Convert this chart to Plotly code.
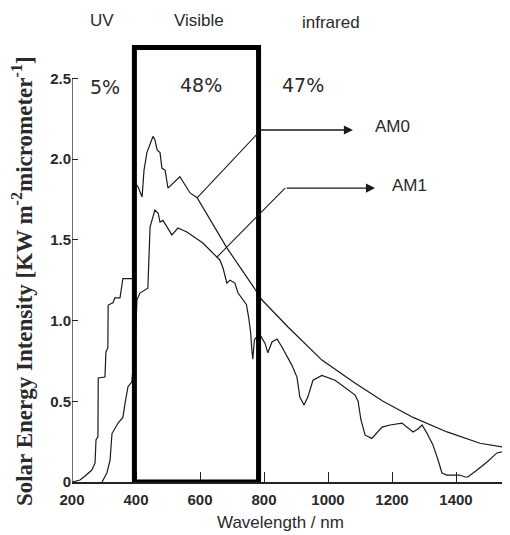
import plotly.graph_objects as go

# ---- data ----
am0_wavelength = [200, 225, 241, 262, 272, 275, 281, 282, 303, 306, 312, 313, 328, 334, 350, 359, 381, 390,
                  397, 406, 419, 425, 434, 444, 453, 459, 466, 475, 481, 491, 500, 537, 569, 591, 684, 778,
                  794, 875, 981, 1084, 1172, 1266, 1372, 1475, 1569]
am0_intensity = [0, 0.012, 0.037, 0.074, 0.118, 0.26, 0.28, 0.644, 0.65, 0.805, 0.83, 1.096, 1.11, 1.14, 1.14,
                 1.26, 1.26, 1.26, 1.85, 1.83, 1.765, 1.93, 2.04, 2.10, 2.14, 2.12, 2.056, 2.04, 1.944, 1.93,
                 1.82, 1.89, 1.79, 1.76, 1.45, 1.176, 1.127, 0.96, 0.755, 0.613, 0.50, 0.40, 0.31, 0.24, 0.21]

am1_wavelength = [294, 309, 319, 325, 344, 359, 366, 375, 387, 397, 403, 412, 437, 444, 459, 469, 475, 484,
                  497, 512, 531, 559, 609, 653, 662, 672, 684, 694, 709, 719, 734, 745, 752, 758, 762, 765,
                  770, 785, 803, 812, 825, 841, 856, 887, 903, 912, 925, 937, 953, 981, 1022, 1084, 1094,
                  1103, 1116, 1137, 1169, 1194, 1231, 1247, 1266, 1281, 1294, 1309, 1328, 1344, 1356, 1372,
                  1412, 1428, 1437, 1466, 1497, 1528, 1569]
am1_intensity = [0, 0.056, 0.136, 0.30, 0.365, 0.40, 0.49, 0.59, 0.62, 0.836, 1.127, 1.17, 1.20, 1.58, 1.684,
                 1.666, 1.61, 1.62, 1.58, 1.53, 1.573, 1.548, 1.48, 1.393, 1.375, 1.325, 1.232, 1.25, 1.232,
                 1.17, 1.127, 1.10, 1.02, 0.93, 0.82, 0.76, 0.88, 0.92, 0.86, 0.80, 0.867, 0.885, 0.836,
                 0.724, 0.65, 0.526, 0.477, 0.526, 0.63, 0.66, 0.63, 0.54, 0.50, 0.384, 0.29, 0.27, 0.34,
                 0.353, 0.365, 0.34, 0.31, 0.328, 0.353, 0.303, 0.23, 0.136, 0.056, 0.043, 0.043, 0.031,
                 0.031, 0.074, 0.124, 0.18, 0.198]

x_ticks = [200, 400, 600, 800, 1000, 1200, 1400]
y_ticks = [0, 0.5, 1.0, 1.5, 2.0, 2.5]
y_tick_text = ["0", "0.5", "1.0", "1.5", "2.0", "2.5"]

visible_band = [395, 783]          # boxed visible region (nm)
region_names = ["UV", "Visible", "infrared"]
region_shares = ["5%", "48%", "47%"]

LINE = "#1a1a1a"
TXT = "#2a2a2a"
SANS = "Liberation Sans, Arial, sans-serif"

fig = go.Figure()
fig.add_trace(go.Scatter(x=am0_wavelength, y=am0_intensity, mode="lines",
                         line=dict(color=LINE, width=1.2), name="AM0", showlegend=False))
fig.add_trace(go.Scatter(x=am1_wavelength, y=am1_intensity, mode="lines",
                         line=dict(color=LINE, width=1.2), name="AM1", showlegend=False))

# visible box
fig.add_shape(type="rect", xref="x", yref="y", x0=visible_band[0], x1=visible_band[1], y0=0, y1=2.69,
              line=dict(color="#000000", width=5))
# y axis line (only up to 2.5)
fig.add_shape(type="line", xref="x", yref="y", x0=200, x1=200, y0=0, y1=2.5,
              line=dict(color="#222222", width=1.3))

# leader lines
fig.add_shape(type="line", xref="x", yref="y", x0=591, y0=1.76, x1=781, y1=2.16,
              line=dict(color=LINE, width=1.1))
fig.add_shape(type="line", xref="x", yref="y", x0=653, y0=1.393, x1=866, y1=1.82,
              line=dict(color=LINE, width=1.1))
fig.add_annotation(x=1078, y=2.18, ax=781, ay=2.18, xref="x", yref="y", axref="x", ayref="y",
                   text="", showarrow=True, arrowhead=2, arrowsize=1.3, arrowwidth=1.4, arrowcolor=LINE)
fig.add_annotation(x=1147, y=1.82, ax=866, ay=1.82, xref="x", yref="y", axref="x", ayref="y",
                   text="", showarrow=True, arrowhead=2, arrowsize=1.3, arrowwidth=1.4, arrowcolor=LINE)

# text labels
for name, xx, yy in zip(region_names, [294, 597, 1009], [2.855, 2.858, 2.848]):
    fig.add_annotation(x=xx, y=yy, text=name, showarrow=False, xanchor="center", yanchor="middle",
                       font=dict(family=SANS, size=17, color=TXT))
for share, xx, yy in zip(region_shares, [303, 603, 922], [2.446, 2.458, 2.458]):
    fig.add_annotation(x=xx, y=yy, text=share, showarrow=False, xanchor="center", yanchor="middle",
                       font=dict(family="DejaVu Sans, Arial", size=19, color=TXT))
fig.add_annotation(x=1200, y=2.204, text="AM0", showarrow=False, xanchor="center", yanchor="middle",
                   font=dict(family=SANS, size=17, color=TXT))
fig.add_annotation(x=1256, y=1.839, text="AM1", showarrow=False, xanchor="center", yanchor="middle",
                   font=dict(family=SANS, size=17, color=TXT))

fig.add_annotation(x=0.475, y=-0.0887, xref="paper", yref="paper", text="Wavelength / nm", showarrow=False,
                   xanchor="center", yanchor="middle", font=dict(family=SANS, size=17, color=TXT))
fig.add_annotation(x=-0.114, y=0.435, xref="paper", yref="paper",
                   text="<b>Solar Energy Intensity [KW m<sup>-2</sup>micrometer<sup>-1</sup>]</b>",
                   textangle=-90, showarrow=False, xanchor="center", yanchor="middle",
                   font=dict(family="Liberation Serif, DejaVu Serif, serif", size=23, color=TXT))

# the page body adds an 8 px margin, so the figure is 8 px smaller than the window
fig.update_layout(
    width=502, height=527,
    margin=dict(l=64, r=0, t=12, b=53, autoexpand=False),
    paper_bgcolor="white", plot_bgcolor="white",
    showlegend=False,
    xaxis=dict(range=[200, 1568.75], tickvals=x_ticks, ticktext=[str(v) for v in x_ticks],
               ticks="inside", ticklen=10, tickwidth=1.3, tickcolor="#222222", automargin=False,
               ticklabelstandoff=3,
               showline=True, linecolor="#222222", linewidth=1.5, showgrid=False, zeroline=False,
               tickfont=dict(family=SANS, size=15, color=TXT, weight="bold")),
    yaxis=dict(range=[0, 2.861], tickvals=y_ticks, ticktext=y_tick_text,
               ticks="inside", ticklen=6, tickwidth=1.3, tickcolor="#222222", automargin=False,
               showline=False, showgrid=False, zeroline=False,
               tickfont=dict(family=SANS, size=15, color=TXT, weight="bold")),
)

fig.write_html("out.html")
